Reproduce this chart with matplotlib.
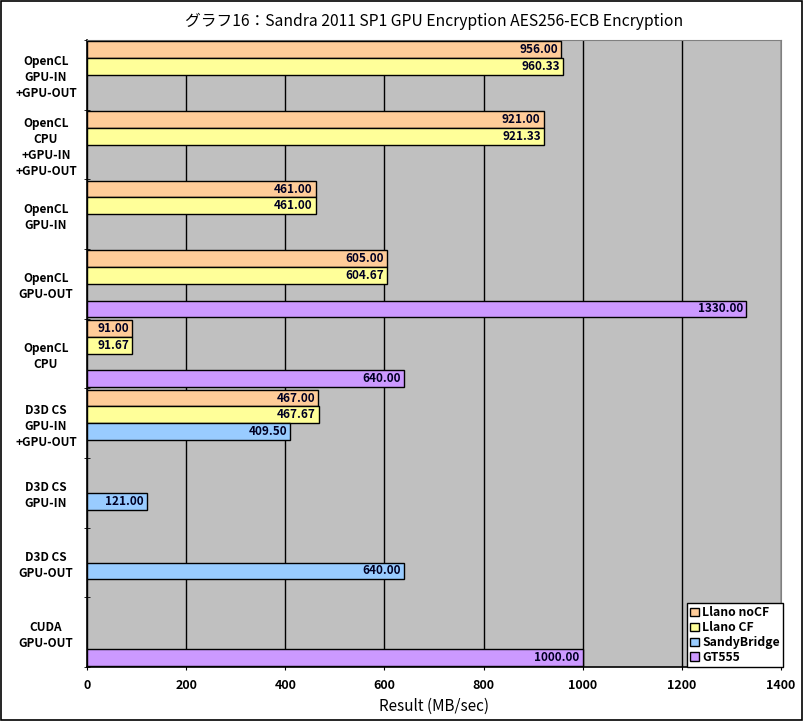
import numpy as np
import matplotlib
matplotlib.use("Agg")
import matplotlib.pyplot as plt
from matplotlib.patches import Rectangle

plt.rcParams['font.family'] = ['Noto Sans CJK JP', 'DejaVu Sans']

# categories, top to bottom
categories = [
    "OpenCL\nGPU-IN\n+GPU-OUT",
    "OpenCL\nCPU\n+GPU-IN\n+GPU-OUT",
    "OpenCL\nGPU-IN",
    "OpenCL\nGPU-OUT",
    "OpenCL\nCPU",
    "D3D CS\nGPU-IN\n+GPU-OUT",
    "D3D CS\nGPU-IN",
    "D3D CS\nGPU-OUT",
    "CUDA\nGPU-OUT",
]
series_names = ["Llano noCF", "Llano CF", "SandyBridge", "GT555"]
llano_nocf = [956.00, 921.00, 461.00, 605.00, 91.00, 467.00, None, None, None]
llano_cf = [960.33, 921.33, 461.00, 604.67, 91.67, 467.67, None, None, None]
sandybridge = [None, None, None, None, None, 409.50, 121.00, 640.00, None]
gt555 = [None, None, None, 1330.00, 640.00, None, None, None, 1000.00]
x_ticks = [0, 200, 400, 600, 800, 1000, 1200, 1400]

colors = ["#FFCC99", "#FFFF99", "#99CCFF", "#CC99FF"]
all_series = [llano_nocf, llano_cf, sandybridge, gt555]

fig = plt.figure(figsize=(8.04, 7.21), dpi=100)
ax = fig.add_axes([0.1082, 0.0749, 0.8632, 0.8696])
ax.set_facecolor("#C0C0C0")

h = 0.24
pos = np.arange(len(categories))
for k, (vals, col, name) in enumerate(zip(all_series, colors, series_names)):
    ys = [p + (k - 1.5) * h for p, v in zip(pos, vals) if v is not None]
    vs = [v for v in vals if v is not None]
    ax.barh(ys, vs, height=h, color=col, edgecolor="black", linewidth=1,
            label=name, zorder=3)
    for y, v in zip(ys, vs):
        ax.text(v - 6, y, f"{v:.2f}", ha="right", va="center",
                fontsize=8.5, fontweight="bold", color="#000022", zorder=4)

ax.set_xlim(0, 1400)
ax.set_ylim(len(categories) - 0.5, -0.5)
ax.set_xticks(x_ticks)
ax.set_xticklabels([str(t) for t in x_ticks], fontsize=9, fontweight="bold")
ax.set_yticks(pos)
ax.set_yticklabels(categories, fontsize=8.5, fontweight="bold",
                   multialignment="center", linespacing=1.3)
ax.tick_params(axis="y", length=0, pad=0)
ax.tick_params(axis="x", length=4, direction="inout", pad=7)
ax.set_yticks(np.arange(len(categories) + 1) - 0.5, minor=True)
ax.tick_params(axis="y", which="minor", length=4, direction="inout")
for lbl in ax.get_yticklabels():
    lbl.set_horizontalalignment("center")
    lbl.set_x(-0.059)

ax.grid(axis="x", color="black", linewidth=1, zorder=1)
ax.set_axisbelow(True)
for s in ["top", "right"]:
    ax.spines[s].set_color("#808080")
for s in ["left", "bottom"]:
    ax.spines[s].set_color("black")
    ax.spines[s].set_linewidth(1.2)

ax.set_xlabel("Result (MB/sec)", fontsize=11, labelpad=4)
ax.set_title("グラフ16：Sandra 2011 SP1 GPU Encryption AES256-ECB Encryption",
             fontsize=11.3, pad=10)

leg = ax.legend(loc="lower right", bbox_to_anchor=(1.003, 0.0),
                fontsize=8.8, handlelength=0.7, handleheight=0.7,
                handletextpad=0.3, labelspacing=0.15, borderpad=0.25,
                fancybox=False, framealpha=1, edgecolor="black",
                borderaxespad=0)
for t in leg.get_texts():
    t.set_fontweight("bold")
leg.get_frame().set_linewidth(1)
leg.set_zorder(10)

fig.patches.append(Rectangle((0.001, 0.001), 0.997, 0.997, transform=fig.transFigure,
                             fill=False, edgecolor="black", linewidth=1.2))

fig.savefig("out.png", dpi=100)
